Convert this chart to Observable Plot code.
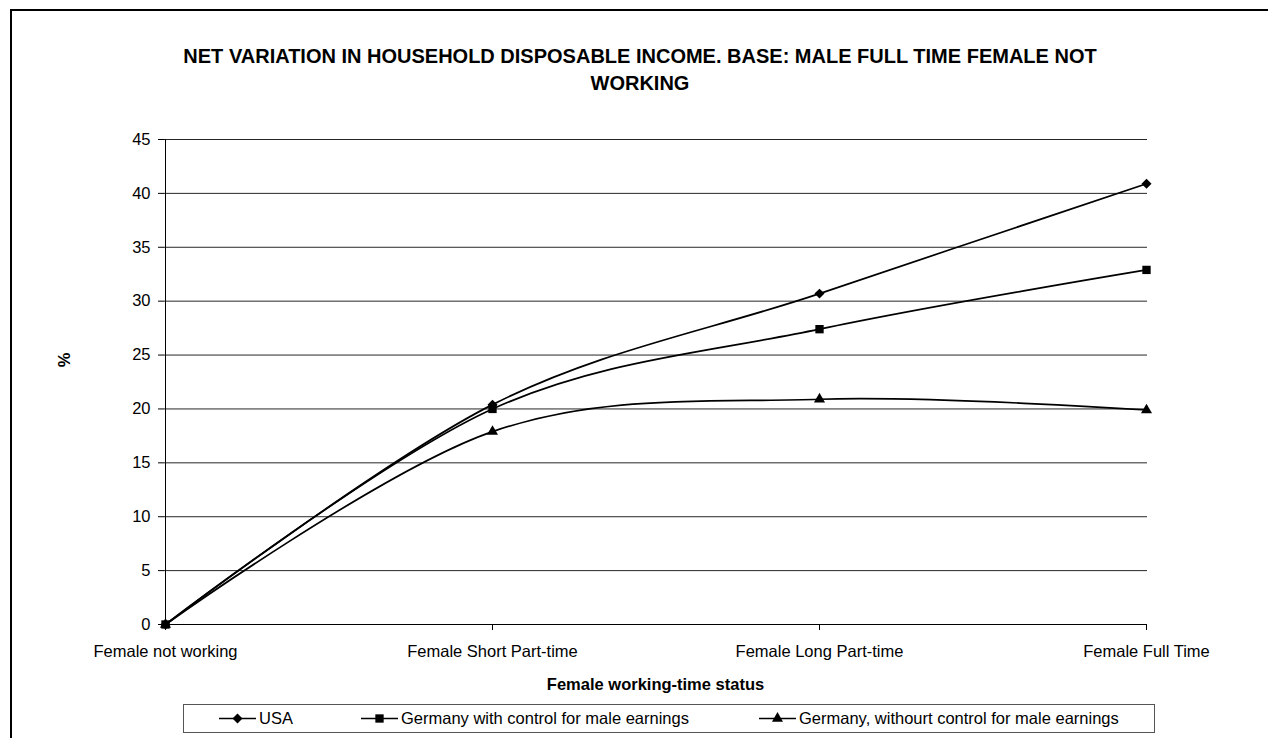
<!DOCTYPE html>
<html>
<head>
<meta charset="utf-8">
<script src="https://cdn.jsdelivr.net/npm/d3@7"></script>
<script src="https://cdn.jsdelivr.net/npm/@observablehq/plot@0.6"></script>
<style>
  body { margin: 0; background: #fff; overflow: hidden; }
  #wrap { position: relative; width: 1268px; height: 738px; overflow: hidden;
          font-family: "Liberation Sans", Arial, sans-serif; color: #000; background: #fff; }
  #frame { position: absolute; left: 10px; top: 9px; width: 1272px; height: 760px;
           border: 2px solid #000; box-sizing: border-box; }
  #chart { position: absolute; left: 0; top: 0; }
  #title { position: absolute; left: 0; width: 1280px; top: 43px; text-align: center;
           font-weight: bold; font-size: 20px; line-height: 27px; }
  #ylabel { position: absolute; left: 64px; top: 360px; font-weight: bold; font-size: 16.5px;
            transform: translate(-50%, -50%) rotate(-90deg); white-space: nowrap; }
  #xlabel { position: absolute; left: 655.5px; top: 684px; font-weight: bold; font-size: 16.5px;
            transform: translate(-50%, -50%); white-space: nowrap; }
  #legend { position: absolute; left: 183px; top: 704px; width: 972px; height: 29px;
            border: 1px solid #555; box-sizing: border-box; }
  .item { position: absolute; top: 0; height: 27px; display: flex; align-items: center;
          font-size: 16.5px; white-space: nowrap; }
  .item svg { display: block; margin-right: 3px; }
</style>
</head>
<body>
<div id="wrap">
  <div id="frame"></div>
  <div id="chart"></div>
  <div id="title">NET VARIATION IN HOUSEHOLD DISPOSABLE INCOME. BASE: MALE FULL TIME FEMALE NOT<br>WORKING</div>
  <div id="ylabel">%</div>
  <div id="xlabel">Female working-time status</div>
  <div id="legend"></div>
</div>
<script>
// ---- data ----
const categories = ["Female not working", "Female Short Part-time", "Female Long Part-time", "Female Full Time"];
const seriesNames = ["USA", "Germany with control for male earnings", "Germany, withourt control for male earnings"];
const usaValues = [0, 20.4, 30.7, 40.9];
const germanyControlValues = [0, 20.0, 27.4, 32.9];
const germanyNoControlValues = [0, 17.9, 20.9, 19.9];
const yTicks = [0, 5, 10, 15, 20, 25, 30, 35, 40, 45];

// ---- styling / layout ----
const seriesStyle = [
  {symbol: "diamond2", d3symbol: d3.symbolDiamond2, r: 4.5},
  {symbol: "square", d3symbol: d3.symbolSquare, r: 4.7},
  {symbol: "triangle", d3symbol: d3.symbolTriangle, r: 4.1}
];
const valueSets = [usaValues, germanyControlValues, germanyNoControlValues];
const rows = [];
seriesNames.forEach((s, i) => valueSets[i].forEach((v, j) => rows.push({series: s, si: i, cat: categories[j], value: v})));

const dotOrder = [2, 0, 1]; // triangles, diamonds, then squares on top

const chart = Plot.plot({
  width: 1268,
  height: 738,
  marginLeft: 164,
  marginRight: 121,
  marginTop: 139,
  marginBottom: 114,
  style: {fontFamily: "'Liberation Sans', Arial, sans-serif", fontSize: "16.5px", color: "#000", background: "transparent", overflow: "visible"},
  x: {type: "point", domain: categories, padding: 0, label: null},
  y: {domain: [0, 45], label: null},
  marks: [
    Plot.gridY(yTicks.filter(d => d > 0), {stroke: "#000", strokeOpacity: 0.85, strokeWidth: 1}),
    Plot.axisY({ticks: yTicks, tickSize: 6, tickPadding: 8, label: null}),
    Plot.axisX({tickSize: 6, tickPadding: 15, label: null}),
    Plot.ruleX([categories[0]], {stroke: "#000", strokeWidth: 1}),
    Plot.ruleY([0], {stroke: "#000", strokeWidth: 1}),
    Plot.line(rows, {x: "cat", y: "value", z: "series", curve: "cardinal", stroke: "#000", strokeWidth: 1.7}),
    ...dotOrder.map(i => Plot.dot(rows.filter(d => d.si === i), {
      x: "cat", y: "value", symbol: () => seriesStyle[i].symbol, r: seriesStyle[i].r, fill: "#000", stroke: "none"
    }))
  ]
});
document.getElementById("chart").appendChild(chart);

// ---- legend ----
const legendLefts = [35, 177, 575];
const legend = d3.select("#legend");
seriesNames.forEach((name, i) => {
  const item = legend.append("div").attr("class", "item").style("left", legendLefts[i] + "px");
  const svg = item.append("svg").attr("width", 37).attr("height", 27);
  svg.append("line").attr("x1", 0).attr("x2", 37).attr("y1", 13.5).attr("y2", 13.5)
     .attr("stroke", "#000").attr("stroke-width", 1.7);
  const st = seriesStyle[i];
  svg.append("path").attr("transform", "translate(18.5,13.5)")
     .attr("d", d3.symbol(st.d3symbol, Math.PI * st.r * st.r)()).attr("fill", "#000");
  item.append("span").text(name);
});
</script>
</body>
</html>
